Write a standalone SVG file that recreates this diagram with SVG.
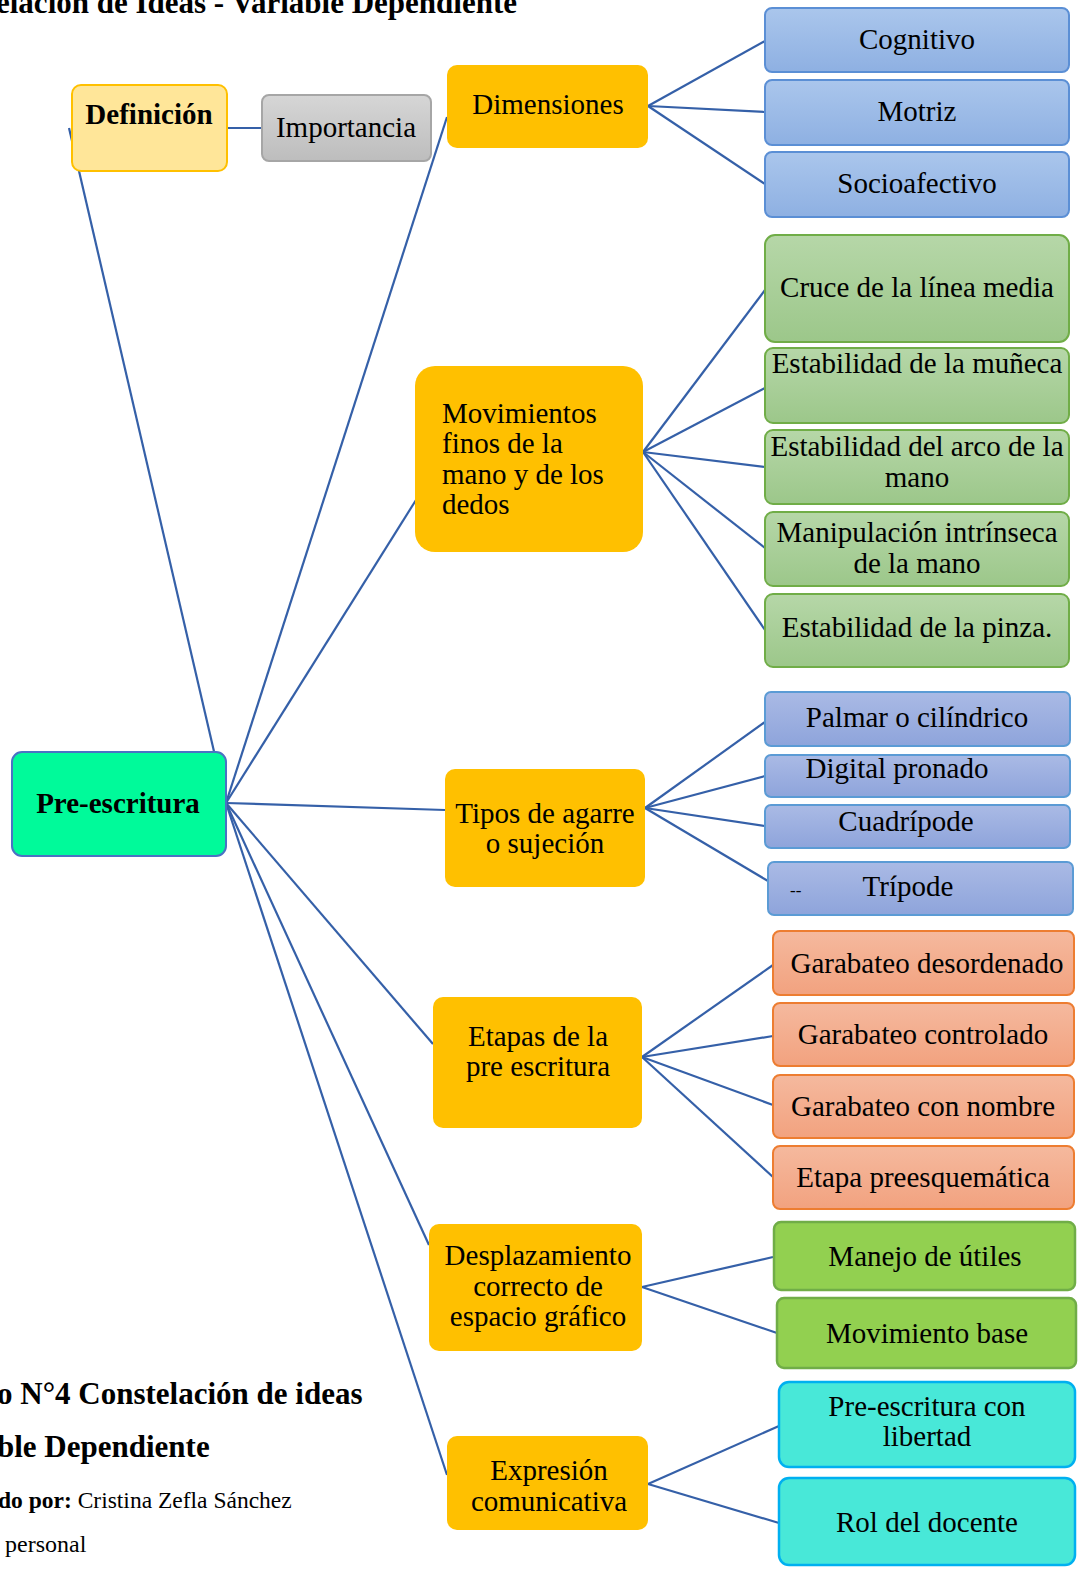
<svg xmlns="http://www.w3.org/2000/svg" width="1084" height="1578" viewBox="0 0 1084 1578">
<defs>
<linearGradient id="gBlue" x1="0" y1="0" x2="0" y2="1"><stop offset="0" stop-color="#aac6ec"/><stop offset="1" stop-color="#8eb0e2"/></linearGradient>
<linearGradient id="gGreen" x1="0" y1="0" x2="0" y2="1"><stop offset="0" stop-color="#b6d7a8"/><stop offset="1" stop-color="#9cc78a"/></linearGradient>
<linearGradient id="gPurple" x1="0" y1="0" x2="0" y2="1"><stop offset="0" stop-color="#aabae5"/><stop offset="1" stop-color="#8ea4db"/></linearGradient>
<linearGradient id="gOrange" x1="0" y1="0" x2="0" y2="1"><stop offset="0" stop-color="#f5b99e"/><stop offset="1" stop-color="#f2a27f"/></linearGradient>
<linearGradient id="gGray" x1="0" y1="0" x2="0" y2="1"><stop offset="0" stop-color="#d6d6d6"/><stop offset="1" stop-color="#bdbdbd"/></linearGradient>
</defs>
<style>
text{font-family:"Liberation Serif","Times New Roman",serif;font-size:29px;fill:#000}
.c{text-anchor:middle}
.b{font-weight:bold}
.con line{stroke:#3560a8;stroke-width:2.2}
.main{fill:#ffc000}
.blue{fill:url(#gBlue);stroke:#5b8fd5;stroke-width:2}
.green{fill:url(#gGreen);stroke:#70ad47;stroke-width:2}
.purple{fill:url(#gPurple);stroke:#5b9bd5;stroke-width:2}
.orange{fill:url(#gOrange);stroke:#ed7d31;stroke-width:2}
.lime{fill:#92d050;stroke:#70ad47;stroke-width:2.5}
.cyan{fill:#48e8d8;stroke:#00b0f0;stroke-width:2.5}
</style>
<rect width="1084" height="1578" fill="#fff"/>
<text class="b" x="-4" y="13" style="font-size:31px">elación de Ideas - Variable Dependiente</text>

<g class="con" id="connectors">
<line x1="226" y1="803" x2="69" y2="128"/>
<line x1="227" y1="128" x2="262" y2="128"/>
<line x1="226" y1="803" x2="447" y2="117"/>
<line x1="226" y1="803" x2="416" y2="500"/>
<line x1="226" y1="803" x2="445" y2="810"/>
<line x1="226" y1="803" x2="433" y2="1044"/>
<line x1="226" y1="803" x2="429" y2="1245"/>
<line x1="226" y1="803" x2="447" y2="1475"/>
<line x1="648" y1="106" x2="765" y2="41"/>
<line x1="648" y1="106" x2="765" y2="112"/>
<line x1="648" y1="106" x2="765" y2="184"/>
<line x1="643" y1="452" x2="765" y2="290"/>
<line x1="643" y1="452" x2="765" y2="388"/>
<line x1="643" y1="452" x2="765" y2="467"/>
<line x1="643" y1="452" x2="765" y2="548"/>
<line x1="643" y1="452" x2="765" y2="630"/>
<line x1="645" y1="808" x2="765" y2="722"/>
<line x1="645" y1="808" x2="765" y2="776"/>
<line x1="645" y1="808" x2="765" y2="826"/>
<line x1="645" y1="808" x2="768" y2="881"/>
<line x1="642" y1="1057" x2="773" y2="965"/>
<line x1="642" y1="1057" x2="773" y2="1036"/>
<line x1="642" y1="1057" x2="773" y2="1105"/>
<line x1="642" y1="1057" x2="773" y2="1177"/>
<line x1="642" y1="1287" x2="773" y2="1257"/>
<line x1="642" y1="1287" x2="777" y2="1333"/>
<line x1="648" y1="1484" x2="779" y2="1426"/>
<line x1="648" y1="1484" x2="779" y2="1523"/>
</g>

<g id="n-preescritura"><rect x="12" y="752" width="214" height="104" rx="10" fill="#00fa9a" stroke="#4a72c4" stroke-width="2"/><text class="c b" x="118" y="813">Pre-escritura</text></g>
<g id="n-definicion"><rect x="72" y="85" width="155" height="86" rx="9" fill="#ffe699" stroke="#ffc000" stroke-width="2"/><text class="c b" x="149" y="124">Definición</text></g>
<g id="n-importancia"><rect x="262" y="95" width="169" height="66" rx="7" fill="url(#gGray)" stroke="#a6a6a6" stroke-width="2"/><text class="c" x="346" y="137">Importancia</text></g>
<g id="n-dimensiones"><rect class="main" x="447" y="65" width="201" height="83" rx="10"/><text class="c" x="548" y="114">Dimensiones</text></g>
<g id="n-cognitivo"><rect class="blue" x="765" y="8" width="304" height="64" rx="7"/><text class="c" x="917" y="49">Cognitivo</text></g>
<g id="n-motriz"><rect class="blue" x="765" y="80" width="304" height="65" rx="7"/><text class="c" x="917" y="121">Motriz</text></g>
<g id="n-socioafectivo"><rect class="blue" x="765" y="152" width="304" height="65" rx="7"/><text class="c" x="917" y="193">Socioafectivo</text></g>

<g id="n-movimientos"><rect class="main" x="415" y="366" width="228" height="186" rx="20"/><text x="442" y="423">Movimientos</text><text x="442" y="453">finos de la</text><text x="442" y="484">mano y de los</text><text x="442" y="514">dedos</text></g>
<g id="n-cruce"><rect class="green" x="765" y="235" width="304" height="107" rx="10"/><text class="c" x="917" y="297">Cruce de la línea media</text></g>
<g id="n-muneca"><rect class="green" x="765" y="348" width="304" height="75" rx="8"/><text class="c" x="917" y="373">Estabilidad de la muñeca</text></g>
<g id="n-arco"><rect class="green" x="765" y="430" width="304" height="74" rx="8"/><text class="c" x="917" y="456">Estabilidad del arco de la</text><text class="c" x="917" y="487">mano</text></g>
<g id="n-manipulacion"><rect class="green" x="765" y="512" width="304" height="74" rx="8"/><text class="c" x="917" y="542">Manipulación intrínseca</text><text class="c" x="917" y="573">de la mano</text></g>
<g id="n-pinza"><rect class="green" x="765" y="594" width="304" height="73" rx="8"/><text class="c" x="917" y="637">Estabilidad de la pinza.</text></g>

<g id="n-tipos"><rect class="main" x="445" y="769" width="200" height="118" rx="10"/><text class="c" x="545" y="823">Tipos de agarre</text><text class="c" x="545" y="853">o sujeción</text></g>
<g id="n-palmar"><rect class="purple" x="765" y="692" width="305" height="54" rx="6"/><text class="c" x="917" y="727">Palmar o cilíndrico</text></g>
<g id="n-digital"><rect class="purple" x="765" y="755" width="305" height="42" rx="6"/><text class="c" x="897" y="778">Digital pronado</text></g>
<g id="n-cuadripode"><rect class="purple" x="765" y="805" width="305" height="43" rx="6"/><text class="c" x="906" y="831">Cuadrípode</text></g>
<g id="n-tripode"><rect class="purple" x="768" y="862" width="305" height="53" rx="6"/><text x="790" y="896" style="font-size:17px">--</text><text class="c" x="908" y="896">Trípode</text></g>

<g id="n-etapas"><rect class="main" x="433" y="997" width="209" height="131" rx="10"/><text class="c" x="538" y="1046">Etapas de la</text><text class="c" x="538" y="1076">pre escritura</text></g>
<g id="n-desordenado"><rect class="orange" x="773" y="931" width="301" height="64" rx="7"/><text class="c" x="927" y="973">Garabateo desordenado</text></g>
<g id="n-controlado"><rect class="orange" x="773" y="1003" width="301" height="63" rx="7"/><text class="c" x="923" y="1044">Garabateo controlado</text></g>
<g id="n-nombre"><rect class="orange" x="773" y="1075" width="301" height="63" rx="7"/><text class="c" x="923" y="1116">Garabateo con nombre</text></g>
<g id="n-preesquematica"><rect class="orange" x="773" y="1146" width="301" height="63" rx="7"/><text class="c" x="923" y="1187">Etapa preesquemática</text></g>

<g id="n-desplazamiento"><rect class="main" x="429" y="1224" width="213" height="127" rx="10"/><text class="c" x="538" y="1265">Desplazamiento</text><text class="c" x="538" y="1296">correcto de</text><text class="c" x="538" y="1326">espacio gráfico</text></g>
<g id="n-manejo"><rect class="lime" x="774" y="1222" width="301" height="68" rx="7"/><text class="c" x="925" y="1266">Manejo de útiles</text></g>
<g id="n-movbase"><rect class="lime" x="777" y="1298" width="299" height="70" rx="7"/><text class="c" x="927" y="1343">Movimiento base</text></g>

<g id="n-expresion"><rect class="main" x="447" y="1436" width="201" height="94" rx="10"/><text class="c" x="549" y="1480">Expresión</text><text class="c" x="549" y="1511">comunicativa</text></g>
<g id="n-libertad"><rect class="cyan" x="779" y="1382" width="296" height="85" rx="10"/><text class="c" x="927" y="1416">Pre-escritura con</text><text class="c" x="927" y="1446">libertad</text></g>
<g id="n-docente"><rect class="cyan" x="779" y="1478" width="296" height="87" rx="10"/><text class="c" x="927" y="1532">Rol del docente</text></g>

<text class="b" x="-3" y="1404" style="font-size:31px">o N°4 Constelación de ideas</text>
<text class="b" x="-3" y="1457" style="font-size:31px">ble Dependiente</text>
<text x="-2" y="1508" style="font-size:23.5px"><tspan font-weight="bold">do por:</tspan> Cristina Zefla Sánchez</text>
<text x="5" y="1552" style="font-size:24px">personal</text>
</svg>
